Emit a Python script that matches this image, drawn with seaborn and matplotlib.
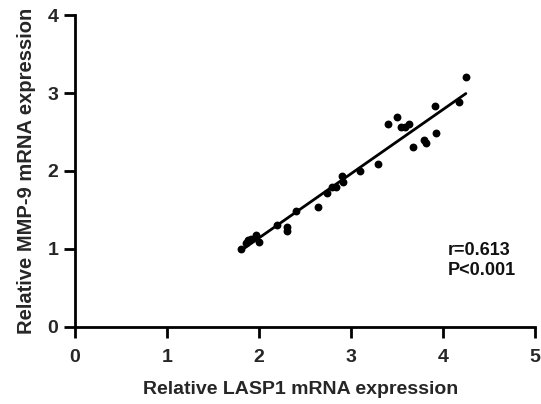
import matplotlib
matplotlib.use("Agg")
import matplotlib.pyplot as plt
import seaborn as sns
import pandas as pd

lasp1 = [1.80, 1.86, 1.88, 1.91, 1.97, 2.00, 2.20, 2.30, 2.30, 2.40,
         2.64, 2.74, 2.79, 2.84, 2.90, 2.91, 3.10, 3.30, 3.40, 3.50,
         3.54, 3.59, 3.63, 3.67, 3.79, 3.82, 3.91, 3.92, 4.18, 4.25]
mmp9 = [1.00, 1.08, 1.11, 1.13, 1.18, 1.09, 1.31, 1.28, 1.23, 1.49,
        1.54, 1.72, 1.79, 1.79, 1.93, 1.86, 2.00, 2.09, 2.60, 2.69,
        2.57, 2.57, 2.60, 2.31, 2.40, 2.36, 2.83, 2.49, 2.89, 3.20]
x_ticks = [0, 1, 2, 3, 4, 5]
y_ticks = [0, 1, 2, 3, 4]
annotation_lines = ["r=0.613", "P<0.001"]

df = pd.DataFrame({"LASP1": lasp1, "MMP9": mmp9})

sns.set_style("ticks")
plt.rcParams["font.family"] = ["Liberation Sans", "DejaVu Sans"]

fig = plt.figure(figsize=(5.41, 4.04), dpi=100)
ax = fig.add_axes([0.1386, 0.191, 0.850, 0.7715])

sns.regplot(data=df, x="LASP1", y="MMP9", ax=ax, ci=None, color="black",
            scatter_kws={"s": 32, "linewidths": 0, "alpha": 1},
            line_kws={"linewidth": 2})

ax.set_xlim(0, 5)
ax.set_ylim(0, 4)
ax.set_xticks(x_ticks)
ax.set_yticks(y_ticks)
ax.set_xticklabels([str(t) for t in x_ticks], fontsize=14, fontweight="bold")
ax.set_yticklabels([str(t) for t in y_ticks], fontsize=14, fontweight="bold")
ax.set_xlabel("Relative LASP1 mRNA expression", fontsize=14, fontweight="bold", labelpad=14)
ax.set_ylabel("Relative MMP-9 mRNA expression", fontsize=14.5, fontweight="bold", labelpad=8)
ax.xaxis.set_label_coords(0.49, -0.175)
for s in ["top", "right"]:
    ax.spines[s].set_visible(False)
for s in ["left", "bottom"]:
    ax.spines[s].set_linewidth(2)
    ax.spines[s].set_color("black")
ax.tick_params(axis="x", length=8, width=2, pad=8, color="black")
ax.tick_params(axis="y", length=8, width=2, pad=4, color="black")
ax.spines["left"].set_bounds(0, 4)
ax.spines["bottom"].set_bounds(0, 5)

for i, line in enumerate(annotation_lines):
    ax.text(0.811, 0.2296 - i * 0.0641, line, transform=ax.transAxes,
            fontsize=13, fontweight="bold", ha="left", va="baseline",
            color="#111111")

fig.savefig("out.png", dpi=100)
